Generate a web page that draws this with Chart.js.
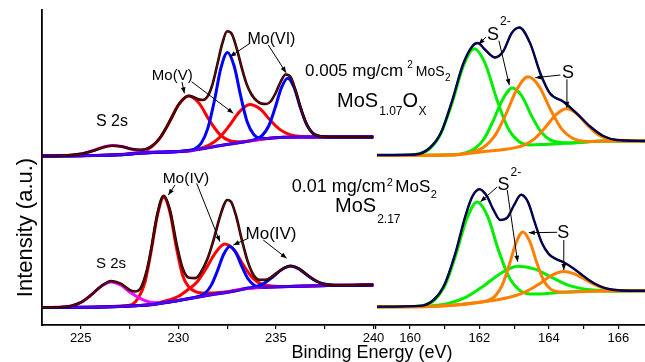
<!DOCTYPE html>
<html><head><meta charset="utf-8">
<script src="https://cdn.jsdelivr.net/npm/chart.js@4.4.1/dist/chart.umd.min.js"></script>
<style>
html,body{margin:0;padding:0;background:#fff;}
#wrap{position:relative;width:645px;height:362px;overflow:hidden;background:#fff;}
canvas{position:absolute;left:0;top:0;}
</style></head><body>
<div id="wrap"><canvas id="cl" width="645" height="362"></canvas><canvas id="cr" width="645" height="362"></canvas></div>
<script>
// ---------- DATA (binding energy in eV, intensity in a.u.) ----------
// Mo 3d region, upper spectrum (0.005 mg/cm2, MoS1.07Ox)
const moTopBackground = [[223,169],[225,169.3],[226,169.5],[227,170.3],[228,171.8],[229,172.8],[230,173.5],[230.6,174],[231.3,176.5],[232,179],[233,182],[234,185],[234.8,187],[235.5,187.7],[236.3,188],[240,188]];
const moTopS2s = [[223,169],[223.6,169.1],[224.1,169.3],[224.6,169.8],[225.1,171.3],[225.6,174.2],[226.1,177.6],[226.6,179.4],[227.1,178.4],[227.6,175.9],[228.1,173.9],[228.6,173],[229.1,173],[229.6,173.2],[230.6,174],[231.3,176.5],[232,179],[233,182],[234,185],[234.8,187],[235.5,187.7],[236.3,188],[240,188]];
const moTopMoV_a = [[223,169],[225,169.3],[226.5,169.9],[227.38,171],[227.9,172.3],[228.43,175.6],[228.96,184.4],[229.48,200.6],[230.0,219.8],[230.53,229],[231.06,221.9],[231.58,205],[232.11,190.9],[232.63,184.3],[233.16,183.2],[233.68,184.1],[234.8,187],[235.5,187.7],[236.3,188],[240,188]];
const moTopMoV_b = [[223,169],[225,169.3],[227,170.3],[228,171.8],[229,172.8],[230,173.5],[230.5,174.1],[231.03,176],[231.55,179.7],[232.08,186.9],[232.6,199],[233.13,213.1],[233.65,220.5],[234.18,216.2],[234.7,205],[235.23,195.1],[235.75,190.1],[236.28,188.5],[236.8,188],[240,188]];
const moTopMoVI_a = [[223,169],[225,169.3],[227,170.3],[228,171.8],[229,172.8],[230,173.5],[230.5,174.2],[230.83,176],[231.17,181.8],[231.51,196.6],[231.85,224.5],[232.18,256.9],[232.52,272.6],[232.86,259],[233.2,228.6],[233.53,202.9],[233.87,190.4],[234.21,186.7],[234.55,186.6],[234.8,187],[235.5,187.7],[236.3,188],[240,188]];
const moTopMoVI_b = [[223,169],[225,169.3],[227,170.3],[228,171.8],[229,172.8],[230,173.5],[231.3,176.5],[232,179],[233,182],[233.65,184.1],[233.98,185.8],[234.3,189.6],[234.63,199],[234.95,216.6],[235.28,237.1],[235.6,246.8],[235.93,237.5],[236.25,217.5],[236.58,200.4],[236.9,191.7],[237.23,188.8],[237.55,188.1],[240,188]];
const moTopEnvelope = [[223,169],[224,169.3],[225,171.1],[225.6,174],[226.1,177.3],[226.6,179.2],[227.1,178.5],[227.6,176],[228.1,175.3],[228.6,178.4],[229.1,188.3],[229.6,205.3],[230.1,222.7],[230.55,229.3],[231.0,226],[231.25,225],[231.5,228.6],[231.75,240.7],[232.0,260.7],[232.25,281.3],[232.5,293.7],[232.75,290.7],[233.0,275.9],[233.25,257.2],[233.5,240.9],[233.75,230.5],[234.0,224.5],[234.25,221.5],[234.5,221],[234.75,224],[235.0,232.5],[235.25,243.5],[235.5,250.5],[235.75,248],[236.0,235],[236.25,218.5],[236.5,204],[236.75,194.7],[237.0,190.4],[237.5,188.2],[238,188],[240,188]];

// Mo 3d region, lower spectrum (0.01 mg/cm2, MoS2.17)
const moBotBackground = [[223,17.5],[226,18],[228,19.5],[228.7,20.5],[230,24.5],[231.6,30],[232.6,33],[233.5,36.5],[234.8,38],[237.7,39.5],[240,40]];
const moBotS2s = [[223,17.5],[223.55,17.6],[224.05,18],[224.55,19.3],[225.05,23],[225.55,30.3],[226.05,38.8],[226.55,43.1],[227.05,40],[227.55,32.5],[228.05,26.5],[228.55,22.8],[229.05,22],[229.55,23.1],[230,24.5],[231.6,30],[232.6,33],[233.5,36.5],[234.8,38],[237.7,39.5],[240,40]];
const moBotMoIV_a = [[223,17.5],[226,18],[226.65,18.5],[227.3,19.3],[227.63,20.5],[227.95,27],[228.28,41.9],[228.6,73],[228.93,109.9],[229.25,127.7],[229.58,111.9],[229.9,77.5],[230.23,49],[230.55,37.8],[230.88,33.4],[231.2,32.1],[231.85,32],[232.6,33.5],[233.5,36.5],[234.8,38],[237.7,39.5],[240,40]];
const moBotMoIV_b = [[223,17.5],[226,18],[228,19.5],[228.57,20.6],[229.52,25],[229.99,28.5],[230.47,35],[230.95,42.8],[231.42,56.4],[231.9,72.1],[232.37,81],[232.85,75.2],[233.32,60.3],[233.8,47.1],[234.27,40.9],[234.75,39],[235.22,38.5],[237.7,39.5],[240,40]];
const moBotMoIV_c = [[223,17.5],[226,18],[228,19.5],[228.7,20.5],[230,24.5],[230.76,27.1],[231.07,28.8],[231.38,32],[231.69,39.9],[232.0,54],[232.32,70.5],[232.63,78.6],[232.94,72.6],[233.26,58.4],[233.57,46.2],[233.88,39.8],[234.2,37.9],[234.5,37.8],[234.8,38],[237.7,39.5],[240,40]];
const moBotMoIV_d = [[223,17.5],[226,18],[228,19.5],[228.7,20.5],[230,24.5],[231.6,30],[232.6,33],[233.05,34.6],[233.5,36.8],[233.95,38.3],[234.4,41.8],[234.85,48.3],[235.3,55.5],[235.75,59],[236.2,55.9],[236.65,49.2],[237.1,43.5],[237.55,40.7],[238.0,39.8],[238.45,39.7],[240,40]];
const moBotEnvelope = [[223,17.5],[224,18],[224.5,19.1],[225.0,22.5],[225.5,29.4],[226.0,38],[226.55,44],[227.05,41.3],[227.5,35.2],[227.8,33.5],[228.1,38],[228.4,55.9],[228.6,75.1],[228.93,111.4],[229.25,129.2],[229.58,114.4],[229.9,82.2],[230.23,56.3],[230.55,47.3],[230.88,46.9],[231.2,54.3],[231.5,66.5],[231.8,84.6],[232.1,106.2],[232.35,120.6],[232.5,125],[232.7,123.3],[232.95,109.8],[233.25,85.5],[233.55,63.8],[233.85,50],[234.15,45.2],[234.45,45.1],[234.75,47.7],[235.05,52.1],[235.35,56.2],[235.75,59],[236.15,56.6],[236.45,52.3],[236.75,47.7],[237.05,44.1],[237.35,41.6],[237.75,40.1],[238.5,39.7],[240,40]];

// S 2p region, upper spectrum
const sTopEnvelope = [[159.05,170],[160.15,170.5],[160.58,177.5],[160.9,193],[161.21,224],[161.53,261],[161.8,279],[161.95,282],[162.17,275],[162.45,267.5],[162.69,274],[162.93,292],[163.15,297.5],[163.46,281.7],[163.75,252],[164.03,231.7],[164.42,223.3],[164.8,211.7],[165.19,198.5],[165.57,189],[165.96,185],[166.77,184]];
const sTopS2_a = [[159.05,169.5],[159.93,169.8],[160.25,171.2],[160.57,176.4],[160.89,191.7],[161.21,222],[161.53,258.6],[161.85,276.2],[162.17,261],[162.49,226.7],[162.81,197.7],[163.13,183.7],[163.45,180.1],[163.77,180.4],[164.7,182.3],[165.6,184],[166.77,184]];
const sTopS2_b = [[159.05,169.5],[161.3,170.4],[161.58,172.1],[161.85,176],[162.13,186],[162.4,204.6],[162.68,226.3],[162.95,237],[163.23,228.5],[163.5,209.2],[163.78,192.9],[164.05,184.9],[164.33,182.5],[164.6,182.1],[165.6,184],[166.77,184]];
const sTopS_a = [[159.05,169.5],[161.2,170],[161.48,171],[161.8,172.9],[162.12,177.7],[162.44,189.2],[162.76,210.6],[163.08,235.7],[163.4,248.2],[163.72,238.7],[164.04,215.9],[164.36,196.4],[164.68,186.7],[165.0,183.8],[165.32,183.6],[165.6,184],[166.77,184]];
const sTopS_b = [[159.05,169.5],[161.2,170],[161.8,172],[162.3,174],[162.7,175.5],[163.0,177.1],[163.3,180.1],[163.6,186.7],[163.9,197.7],[164.2,210.1],[164.5,216.2],[164.8,211.4],[165.1,200.3],[165.4,190.8],[165.7,186.2],[166.0,184.4],[166.3,184],[166.77,184]];

// S 2p region, lower spectrum
const sBotEnvelope = [[159.05,18.3],[160.35,19.4],[160.7,25.8],[161.0,41.1],[161.3,71.2],[161.6,109.7],[161.8,128.9],[162.0,135.8],[162.2,129.7],[162.4,115.4],[162.6,105],[162.8,107.3],[163.0,120.1],[163.2,130.3],[163.4,122.9],[163.6,101.8],[163.8,81.9],[164.0,70.9],[164.2,66.1],[164.45,62.2],[164.7,56.8],[165.0,48.9],[165.3,41.8],[165.6,37.2],[165.9,35],[166.3,34.2],[166.77,34.3]];
const sBotS2_a = [[159.05,18.3],[160.1,18.5],[160.4,19.7],[160.71,25.2],[161.02,40.6],[161.32,70.4],[161.63,105.8],[161.93,123.1],[162.24,108.4],[162.54,75.7],[162.85,48.1],[163.15,34.9],[163.46,31.1],[163.76,31],[164.19,32.3],[165.15,33.7],[166.77,34.3]];
const sBotS2_b = [[159.05,18.3],[160.1,18.4],[160.6,19.1],[161.1,21.5],[161.6,27.6],[162.1,38.6],[162.6,51.3],[163.1,58.8],[163.6,55.9],[164.1,47.3],[164.6,39.3],[165.1,35.5],[165.6,34.3],[166.1,34],[166.77,34.3]];
const sBotS_a = [[159.05,18.3],[160.35,18.3],[161.3,20],[162.05,23.1],[162.25,24.7],[162.45,28.9],[162.65,39.3],[162.85,59],[163.05,81.8],[163.25,93.1],[163.45,83.6],[163.65,62.5],[163.85,44.5],[164.05,35.8],[164.25,33.2],[164.45,32.7],[165.15,33.7],[166.77,34.3]];
const sBotS_b = [[159.05,18.3],[160.35,18.3],[161.3,20],[162.32,24.2],[162.67,26.2],[163.02,29.2],[163.37,33.9],[163.72,41.1],[164.07,49.4],[164.42,53.4],[164.77,50.6],[165.12,44],[165.47,38.2],[165.82,35.3],[166.17,34.3],[166.77,34.3]];

// axis ranges / ticks
const moRange = [223, 240], moStep = 2.5, moLabelEvery = 5;
const sRange = [158.97, 166.77], sStep = 1, sLabelEvery = 2;
const intensityRange = [0, 315];

// annotations (in data units of each panel)
const moNotes = [
  {at:[225.78,199], parts:[{t:'S 2s', s:16}]},
  {at:[229.69,245], align:'center', parts:[{t:'Mo(V)', s:15}]},
  {at:[234.77,281], align:'center', parts:[{t:'Mo(VI)', s:16}]},
  {at:[236.49,249], parts:[{t:'0.005 mg/cm',s:17},{t:'2',s:10,dx:4,dy:-8},{t:'MoS',s:14,dx:3},{t:'2',s:10,dx:0.5,dy:5}]},
  {at:[238.13,218], parts:[{t:'MoS',s:20},{t:'1.07',s:12,dx:1,dy:8},{t:'O',s:20},{t:'X',s:12,dx:0.5,dy:8}]},
  {at:[235.81,133], parts:[{t:'0.01 mg/cm',s:18},{t:'2',s:11,dx:1,dy:-6},{t:'MoS',s:17,dx:2.5},{t:'2',s:11,dx:0.5,dy:6}]},
  {at:[238.03,113], parts:[{t:'MoS',s:20},{t:'2.17',s:12,dx:1,dy:11}]},
  {at:[230.39,142], align:'center', parts:[{t:'Mo(IV)', s:15.5}]},
  {at:[234.75,86], align:'center', parts:[{t:'Mo(IV)', s:17}]},
  {at:[225.78,57], parts:[{t:'S 2s', s:15}]}
];
const moArrows = [
  [[230.19,243],[230.31,231.7]], [[230.68,243.3],[232.82,211.7]],
  [[233.67,281.7],[232.65,268.3]], [[234.61,280],[235.52,252.3]],
  [[229.83,140],[229.49,130]], [[230.94,141.7],[232.13,83.3]],
  [[233.58,86.7],[232.82,80]], [[234.35,85],[235.55,66.7]]
];
const sNotes = [
  {at:[162.22,285], parts:[{t:'S',s:18},{t:'2-',s:12,dx:1,dy:-15}]},
  {at:[164.38,247], parts:[{t:'S',s:18}]},
  {at:[162.52,135], parts:[{t:'S',s:18},{t:'2-',s:12,dx:1,dy:-14}]},
  {at:[164.24,87], parts:[{t:'S',s:18}]}
];
const sArrows = [
  [[162.19,288],[161.98,280.7]], [[162.56,284.3],[162.86,240]],
  [[164.33,250],[163.61,247.3]], [[164.52,245.7],[164.52,217.3]],
  [[162.51,138],[162.03,123.3]], [[162.8,135],[163.1,63.3]],
  [[164.24,92.7],[163.42,92.3]], [[164.43,85],[164.43,55]]
];
const xTitle = 'Binding Energy (eV)';
const yTitle = 'Intensity (a.u.)';

// ---------- RENDERING ----------
const FONT = "'Liberation Sans', Arial, Helvetica, sans-serif";
Chart.defaults.font.family = FONT;
Chart.defaults.color = '#000';

const pts = a => a.map(p => ({x:p[0], y:p[1]}));
function line(data, color, width, order){
  return {data:pts(data), borderColor:color, backgroundColor:color, borderWidth:width, showLine:true,
          pointRadius:0, fill:false, cubicInterpolationMode:'monotone', order:order};
}
function drawRich(ctx, x, y, parts, align){
  let total = 0;
  parts.forEach(p => { ctx.font = p.s + 'px ' + FONT; total += (p.dx||0) + ctx.measureText(p.t).width; });
  let cx = align === 'center' ? x - total/2 : x;
  parts.forEach(p => {
    ctx.font = p.s + 'px ' + FONT; cx += (p.dx||0);
    ctx.fillText(p.t, cx, y + (p.dy||0)); cx += ctx.measureText(p.t).width;
  });
}
function arrow(ctx, x1, y1, x2, y2){
  ctx.beginPath(); ctx.moveTo(x1,y1); ctx.lineTo(x2,y2); ctx.stroke();
  const a = Math.atan2(y2-y1, x2-x1), L = 6, W = 2.4;
  ctx.beginPath(); ctx.moveTo(x2,y2);
  ctx.lineTo(x2 - L*Math.cos(a) + W*Math.sin(a), y2 - L*Math.sin(a) - W*Math.cos(a));
  ctx.lineTo(x2 - L*Math.cos(a) - W*Math.sin(a), y2 - L*Math.sin(a) + W*Math.cos(a));
  ctx.closePath(); ctx.fill();
}
function notesPlugin(notes, arrows, withTitles){
  return {
    id: 'notes',
    afterDatasetsDraw(chart){
      const ctx = chart.ctx, xs = chart.scales.x, ys = chart.scales.y;
      ctx.save();
      ctx.fillStyle = '#000'; ctx.strokeStyle = '#000'; ctx.lineWidth = 1;
      ctx.textBaseline = 'alphabetic'; ctx.textAlign = 'left';
      notes.forEach(n => drawRich(ctx, xs.getPixelForValue(n.at[0]), ys.getPixelForValue(n.at[1]), n.parts, n.align));
      arrows.forEach(a => arrow(ctx, xs.getPixelForValue(a[0][0]), ys.getPixelForValue(a[0][1]),
                                     xs.getPixelForValue(a[1][0]), ys.getPixelForValue(a[1][1])));
      if (withTitles){
        const ca = chart.chartArea;
        ctx.textAlign = 'center';
        ctx.font = '18px ' + FONT;
        ctx.fillText(xTitle, ca.right - 1.5, 358);
        ctx.save();
        ctx.translate(ca.left - 9.7, 227.5); ctx.rotate(-Math.PI/2);
        ctx.font = '22px ' + FONT;
        ctx.fillText(yTitle, 0, 0);
        ctx.restore();
      }
      ctx.restore();
    }
  };
}
function xScale(range, step, every){
  return {
    type:'linear', position:'bottom', min:range[0], max:range[1],
    afterFit: s => { s.height = 37; },
    ticks:{ stepSize:step, includeBounds:false, autoSkip:false, maxRotation:0, padding:2,
            font:{size:13}, color:'#000',
            callback: v => (Math.abs(v/every - Math.round(v/every)) < 1e-6 ? String(Math.round(v)) : '') },
    grid:{ display:true, drawOnChartArea:false, drawTicks:true, tickLength:4, color:'#000', lineWidth:1.2 },
    border:{ display:true, color:'#000', width:1.8 }
  };
}
const common = {
  responsive:false, animation:false, devicePixelRatio:1, events:[],
  plugins:{ legend:{display:false}, tooltip:{enabled:false} }
};

new Chart(document.getElementById('cl'), {
  type:'scatter',
  data:{ datasets:[
    line(moTopMoV_a,'#FF0000',3,8), line(moTopMoV_b,'#FF0000',3,8),
    line(moTopS2s,'#FF00FF',3,7),
    line(moTopMoVI_a,'#0000FF',3,6), line(moTopMoVI_b,'#0000FF',3,6),
    line(moTopBackground,'rgba(140,0,210,0.7)',1.8,5),
    line(moTopEnvelope,'#000000',2.6,3), line(moTopEnvelope,'#7F0000',1.2,2),
    line(moBotMoIV_a,'#FF0000',3,8), line(moBotMoIV_b,'#FF0000',3,8),
    line(moBotS2s,'#FF00FF',3,7),
    line(moBotMoIV_c,'#0000FF',3,6), line(moBotMoIV_d,'#0000FF',3,6),
    line(moBotBackground,'rgba(140,0,210,0.7)',1.8,5),
    line(moBotEnvelope,'#000000',2.6,3), line(moBotEnvelope,'#7F0000',1.2,2)
  ]},
  options:Object.assign({}, common, {
    layout:{ padding:{ left:41.7, right:645-373.5, top:10, bottom:0 } },
    scales:{
      x: xScale(moRange, moStep, moLabelEvery),
      y: { type:'linear', min:intensityRange[0], max:intensityRange[1], display:true,
           afterFit: s => { s.width = 0; },
           ticks:{display:false}, grid:{display:false},
           border:{display:true, color:'#000', width:1.8} }
    }
  }),
  plugins:[notesPlugin(moNotes, moArrows, true)]
});

new Chart(document.getElementById('cr'), {
  type:'scatter',
  data:{ datasets:[
    line(sTopS2_a,'#00EE00',3,8), line(sTopS2_b,'#00EE00',3,8),
    line(sTopS_a,'#FF8000',3,7), line(sTopS_b,'#FF8000',3,7),
    line(sTopEnvelope,'#000000',2.4,3), line(sTopEnvelope,'#00007F',1.3,2),
    line(sBotS2_a,'#00EE00',3,8), line(sBotS2_b,'#00EE00',3,8),
    line(sBotS_a,'#FF8000',3,7), line(sBotS_b,'#FF8000',3,7),
    line(sBotEnvelope,'#000000',2.4,3), line(sBotEnvelope,'#00007F',1.3,2)
  ]},
  options:Object.assign({}, common, {
    layout:{ padding:{ left:374.3, right:0, top:10, bottom:0 } },
    scales:{
      x: xScale(sRange, sStep, sLabelEvery),
      y: { type:'linear', min:intensityRange[0], max:intensityRange[1], display:false }
    }
  }),
  plugins:[notesPlugin(sNotes, sArrows, false)]
});
</script>
</body></html>
